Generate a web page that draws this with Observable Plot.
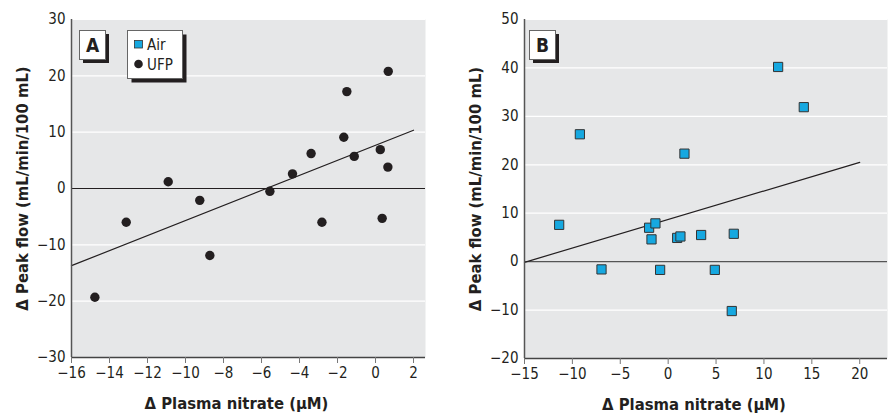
<!DOCTYPE html>
<html>
<head>
<meta charset="utf-8">
<script src="https://cdn.jsdelivr.net/npm/d3@7"></script>
<script src="https://cdn.jsdelivr.net/npm/@observablehq/plot@0.6"></script>
<style>
  html, body { margin: 0; padding: 0; background: #fff; }
  #wrap { display: flex; width: 891px; height: 419px; }
  svg { display: block; }
</style>
</head>
<body>
<div id="wrap"></div>
<script>
// ---------- data ----------
// Panel A (UFP exposure)
const nitrateA = [-14.77, -13.12, -10.91, -9.25, -8.72, -5.56, -4.37, -3.39, -2.82, -1.67, -1.51, -1.12, 0.25, 0.35, 0.65, 0.67];
const flowA    = [-19.3, -6.0, 1.2, -2.1, -11.9, -0.5, 2.6, 6.2, -6.0, 9.1, 17.2, 5.7, 6.9, -5.3, 3.8, 20.8];
const fitXA = [-16, 2];
const fitYA = [-13.7, 10.35];
const xTicksA = [-16, -14, -12, -10, -8, -6, -4, -2, 0, 2];
const yTicksA = [-30, -20, -10, 0, 10, 20, 30];

// Panel B (Air exposure)
const nitrateB = [-11.38, -9.22, -6.96, -1.99, -1.74, -1.33, -0.84, 0.94, 1.28, 1.70, 3.44, 4.87, 6.64, 6.85, 11.48, 14.16];
const flowB    = [7.6, 26.3, -1.6, 7.0, 4.6, 7.9, -1.7, 4.9, 5.2, 22.3, 5.5, -1.7, -10.2, 5.75, 40.2, 31.9];
const fitXB = [-15, 20];
const fitYB = [-0.14, 20.5];
const xTicksB = [-15, -10, -5, 0, 5, 10, 15, 20];
const yTicksB = [-20, -10, 0, 10, 20, 30, 40, 50];

const legendLabels = ["Air", "UFP"];
const panelLetters = ["A", "B"];
const xTitle = "\u0394 Plasma nitrate (\u03bcM)";
const yTitle = "\u0394 Peak flow (mL/min/100 mL)";

// ---------- helpers ----------
const FONT = "'Liberation Sans Narrow', 'DejaVu Sans Condensed', 'Arial Narrow', sans-serif";
const BLUE = "#16a8e0";
const INK = "#231f20";
const fmt = d => d < 0 ? "\u2212" + Math.abs(d) : String(d);

function panel({xs, ys, fx, fy, xTicks, yTicks, xDomain, yDomain, width, marginLeft, marginRight, marginBottom, symbol, zeroStroke}) {
  const pts = xs.map((x, i) => ({x, y: ys[i]}));
  const fit = fx.map((x, i) => ({x, y: fy[i]}));
  const marks = [
    Plot.frame({fill: "#e6e7e8", stroke: null}),
    Plot.gridY(yTicks.filter(d => d !== 0), {stroke: "#fff", strokeOpacity: 1, strokeWidth: 1.2}),
    Plot.ruleY([0], {stroke: zeroStroke, strokeWidth: 1.2}),
    Plot.line(fit, {x: "x", y: "y", stroke: INK, strokeWidth: 1.2}),
    symbol === "square"
      ? Plot.dot(pts, {x: "x", y: "y", symbol: "square", r: 5.2, fill: BLUE, stroke: "#333", strokeWidth: 1})
      : Plot.dot(pts, {x: "x", y: "y", r: 4.7, fill: INK, stroke: null}),
    Plot.ruleX([xDomain[0]], {stroke: "#555", strokeWidth: 1.5}),
    Plot.ruleY([yDomain[0]], {stroke: "#444", strokeWidth: 1.5}),
    Plot.axisY({ticks: yTicks, tickSize: 0, tickPadding: 6, tickFormat: fmt, label: null, fontSize: 15}),
    Plot.axisX({ticks: xTicks, tickSize: 6, tickPadding: 4, tickFormat: fmt, label: null, stroke: "#777", fontSize: 15}),
    Plot.text([xTitle], {frameAnchor: "bottom", textAnchor: "middle", dy: 51, dx: -12, fontSize: 16.5, fontWeight: "bold", fill: INK}),
    Plot.text([yTitle], {frameAnchor: "left", textAnchor: "middle", rotate: -90, dx: -49, fontSize: 16.5, fontWeight: "bold", fill: INK})
  ];
  return Plot.plot({
    width, height: 419,
    marginLeft, marginRight, marginTop: 19, marginBottom,
    style: {fontFamily: FONT, fontSize: "15px", color: INK, background: "#fff", overflow: "visible"},
    x: {domain: xDomain},
    y: {domain: yDomain},
    marks
  });
}

function shadowBox(g, x, y, w, h, off) {
  g.append("rect").attr("x", x + off).attr("y", y + off).attr("width", w).attr("height", h).attr("fill", INK);
  g.append("rect").attr("x", x).attr("y", y).attr("width", w).attr("height", h).attr("fill", "#fff").attr("stroke", "#666").attr("stroke-width", 1);
}

// ---------- panel A ----------
const svgA = panel({
  xs: nitrateA, ys: flowA, fx: fitXA, fy: fitYA,
  xTicks: xTicksA, yTicks: yTicksA, xDomain: [-16, 2.63], yDomain: [-30, 30],
  width: 445, marginLeft: 71, marginRight: 20, marginBottom: 62,
  symbol: "circle", zeroStroke: INK
});
// ---------- panel B ----------
const svgB = panel({
  xs: nitrateB, ys: flowB, fx: fitXB, fy: fitYB,
  xTicks: xTicksB, yTicks: yTicksB, xDomain: [-15, 22.9], yDomain: [-20, 50],
  width: 446, marginLeft: 79, marginRight: 4, marginBottom: 61,
  symbol: "square", zeroStroke: "#555"
});

// annotations: panel letters and legend
{
  const g = d3.select(svgA).append("g").attr("font-family", FONT);
  shadowBox(g, 79.5, 30.5, 26, 29, 3.5);
  g.append("text").attr("x", 92.5).attr("y", 52).attr("text-anchor", "middle")
    .attr("font-size", 19).attr("font-weight", "bold").attr("fill", INK).text(panelLetters[0]);
  shadowBox(g, 127.5, 30.5, 55, 48, 4);
  g.append("rect").attr("x", 134.5).attr("y", 40.5).attr("width", 8).attr("height", 7.5)
    .attr("fill", BLUE).attr("stroke", "#333").attr("stroke-width", 0.8);
  g.append("circle").attr("cx", 138.5).attr("cy", 64).attr("r", 4.3).attr("fill", INK);
  g.append("text").attr("x", 147).attr("y", 49.5).attr("text-anchor", "start").attr("font-size", 15).attr("fill", INK).text(legendLabels[0]);
  g.append("text").attr("x", 147).attr("y", 69.5).attr("text-anchor", "start").attr("font-size", 15).attr("fill", INK).text(legendLabels[1]);
}
{
  const g = d3.select(svgB).append("g").attr("font-family", FONT);
  shadowBox(g, 84.5, 30.5, 26, 29, 3.5);
  g.append("text").attr("x", 97.5).attr("y", 52).attr("text-anchor", "middle")
    .attr("font-size", 19).attr("font-weight", "bold").attr("fill", INK).text(panelLetters[1]);
}

document.getElementById("wrap").append(svgA, svgB);
</script>
</body>
</html>
